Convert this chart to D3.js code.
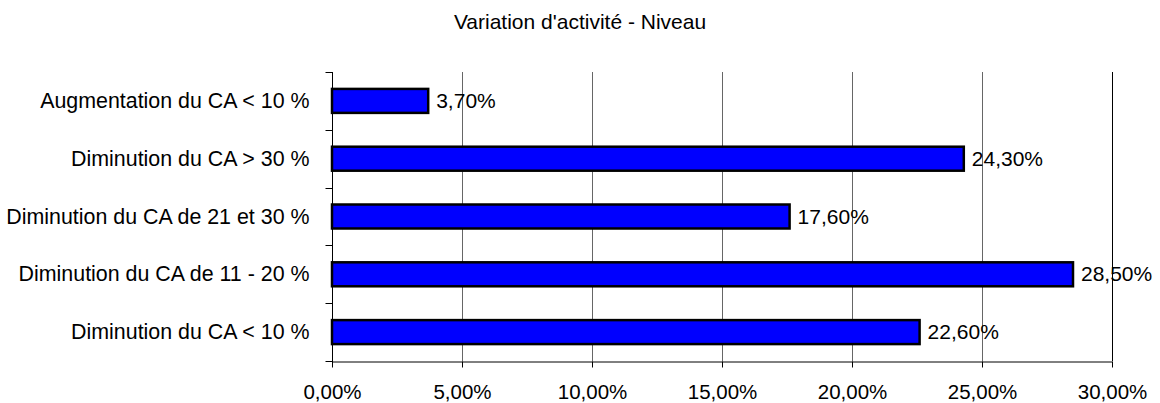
<!DOCTYPE html>
<html><head><meta charset="utf-8">
<script src="https://cdn.jsdelivr.net/npm/d3@7"></script>
<style>body{margin:0;background:#fff;} text{font-family:"Liberation Sans",Arial,sans-serif;}</style>
</head><body>
<svg id="c" width="1160" height="403"></svg>
<script>
const categories = ["Augmentation du CA < 10 %","Diminution du CA > 30 %","Diminution du CA de 21 et 30 %","Diminution du CA de 11 - 20 %","Diminution du CA < 10 %"];
const values = [3.7, 24.3, 17.6, 28.5, 22.6];
const xTicks = [0,5,10,15,20,25,30];
const title = "Variation d'activité - Niveau";

const svg = d3.select("#c");
const m = {l:332, r:1112, t:72, b:361};
const x = d3.scaleLinear().domain([0,30]).range([m.l,m.r]);
const y = d3.scaleBand().domain(categories).range([m.t,m.b]).paddingInner(0.585).paddingOuter(0.2925);
const fmt = v => d3.format(".2f")(v).replace(".", ",") + "%";

svg.append("text").attr("x",580).attr("y",29).attr("text-anchor","middle").attr("font-size",21).text(title);

// gridlines
svg.append("g").selectAll("line").data(xTicks.slice(1)).join("line")
  .attr("x1",d=>Math.round(x(d))+0.5).attr("x2",d=>Math.round(x(d))+0.5)
  .attr("y1",m.t).attr("y2",m.b).attr("stroke",d=>d===30?"#000":"#666").attr("stroke-width",1);

// bars
svg.append("g").selectAll("rect").data(values).join("rect")
  .attr("x",x(0)).attr("y",(d,i)=>y(categories[i]))
  .attr("width",d=>x(d)-x(0)).attr("height",y.bandwidth())
  .attr("fill","#0000ff").attr("stroke","#000").attr("stroke-width",2.5);

// value labels
svg.append("g").selectAll("text").data(values).join("text")
  .attr("x",d=>x(d)+8).attr("y",(d,i)=>y(categories[i])+y.bandwidth()/2+7)
  .attr("font-size",21).text(d=>fmt(d));

// x axis
const xa = svg.append("g").attr("transform",`translate(0,${m.b+0.5})`)
  .call(d3.axisBottom(x).tickValues(xTicks).tickFormat(d=>fmt(d)).tickSize(6).tickPadding(17).tickSizeOuter(0));
xa.select(".domain").attr("stroke","#000");
xa.selectAll("text").attr("font-size",20.5).attr("font-family","Liberation Sans, Arial, sans-serif").attr("fill","#000");

// y axis with ticks between categories
const ya = svg.append("g").attr("transform",`translate(${m.l+0.5},0)`);
ya.append("line").attr("x1",0).attr("x2",0).attr("y1",m.t).attr("y2",m.b+6).attr("stroke","#000");
const bounds = d3.range(categories.length+1).map(i=>m.t + i*(m.b-m.t)/categories.length);
ya.selectAll("line.t").data(bounds).join("line").attr("class","t")
  .attr("x1",-7).attr("x2",0).attr("y1",d=>Math.round(d)+0.5).attr("y2",d=>Math.round(d)+0.5).attr("stroke","#000");
ya.selectAll("text").data(categories).join("text")
  .attr("x",-23).attr("y",d=>y(d)+y.bandwidth()/2+7)
  .attr("text-anchor","end").attr("font-size",21.4).text(d=>d);
</script>
</body></html>
